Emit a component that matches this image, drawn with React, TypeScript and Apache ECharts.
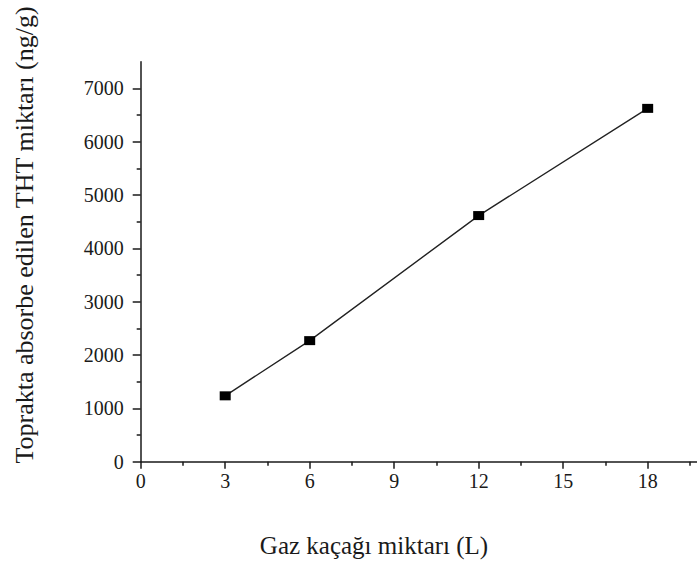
import React, { useEffect, useRef } from "react";
import * as echarts from "echarts";

const xValues = [3, 6, 12, 18];
const yValues = [1235, 2270, 4615, 6625];
const xTickLabels = [0, 3, 6, 9, 12, 15, 18];
const yTickLabels = [0, 1000, 2000, 3000, 4000, 5000, 6000, 7000];
const xTitle = "Gaz kaçağı miktarı (L)";
const yTitle = "Toprakta absorbe edilen THT miktarı (ng/g)";

const FONT = "Liberation Serif";
const INK = "#1a1a1a";

export default function App() {
  const ref = useRef<HTMLDivElement>(null);
  useEffect(() => {
    if (!ref.current) return;
    const chart = echarts.init(ref.current, undefined, { renderer: "svg" });
    chart.setOption({
      animation: false,
      backgroundColor: "#ffffff",
      grid: { left: 140.7, top: 61.7, right: 16, bottom: 101.3, containLabel: false },
      xAxis: {
        type: "value",
        min: 0,
        max: 20,
        interval: 3,
        splitLine: { show: false },
        axisLine: { show: true, onZero: false, lineStyle: { color: INK, width: 1.5 } },
        axisTick: { show: true, length: 7, lineStyle: { color: INK, width: 1.5 }, customValues: xTickLabels },
        minorTick: { show: true, splitNumber: 2, length: 4, lineStyle: { color: INK, width: 1.5 } },
        axisLabel: {
          customValues: xTickLabels,
          margin: 9,
          color: INK,
          fontFamily: FONT,
          fontSize: 20,
          formatter: (v: number) => String(v),
        },
      },
      yAxis: {
        type: "value",
        min: 0,
        max: 7500,
        interval: 1000,
        splitLine: { show: false },
        axisLine: { show: true, onZero: false, lineStyle: { color: INK, width: 1.5 } },
        axisTick: { show: true, length: 8, lineStyle: { color: INK, width: 1.5 }, customValues: yTickLabels },
        minorTick: { show: true, splitNumber: 2, length: 4, lineStyle: { color: INK, width: 1.5 } },
        axisLabel: {
          customValues: yTickLabels,
          margin: 17,
          color: INK,
          fontFamily: FONT,
          fontSize: 20,
          formatter: (v: number) => String(v),
        },
      },
      graphic: [
        {
          type: "text",
          x: 374,
          y: 545,
          style: {
            text: xTitle,
            fill: INK,
            fontFamily: FONT,
            fontSize: 25,
            textAlign: "center",
            textVerticalAlign: "middle",
          },
        },
        {
          type: "text",
          x: 24,
          y: 235,
          rotation: Math.PI / 2,
          style: {
            text: yTitle,
            fill: INK,
            fontFamily: FONT,
            fontSize: 26,
            textAlign: "center",
            textVerticalAlign: "middle",
          },
        },
      ],
      series: [
        {
          type: "line",
          data: xValues.map((x, i) => [x, yValues[i]]),
          symbol: "rect",
          symbolSize: [11, 9],
          itemStyle: { color: "#000000" },
          lineStyle: { color: "#222222", width: 1.4 },
          silent: true,
        },
      ],
    });
    return () => chart.dispose();
  }, []);
  return (
    <div style={{ position: "fixed", left: 0, top: 0, width: 697, height: 563, overflow: "hidden", background: "#fff" }}>
      <div ref={ref} style={{ width: 720, height: 563 }} />
    </div>
  );
}
